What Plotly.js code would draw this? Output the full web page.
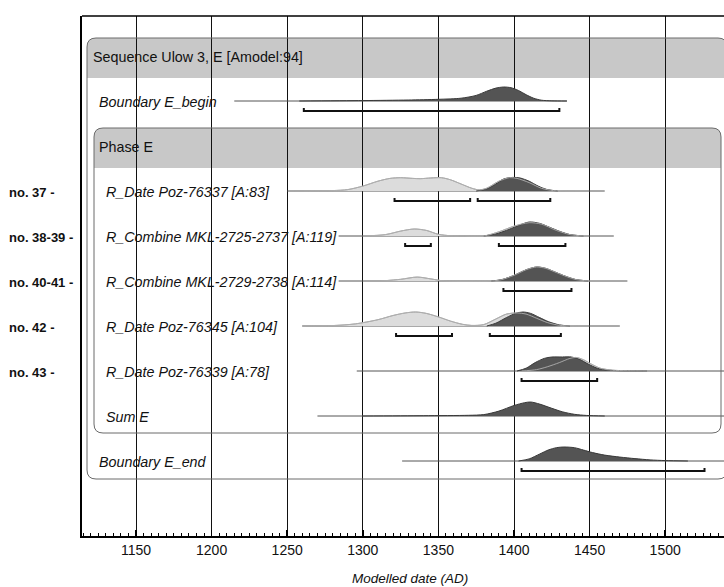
<!DOCTYPE html>
<html><head><meta charset="utf-8">
<script src="https://cdn.plot.ly/plotly-3.0.1.min.js"></script>
<style>html,body{margin:0;padding:0;background:#fff}#chart{width:724px;height:587px}</style>
</head><body><div id="chart"></div>
<script>
// ---------------- DATA ----------------
const headerTitle = 'OxCal v4.2.4 Bronk Ramsey (2013); r:5 IntCal13 atmospheric curve (Reimer et al 2013)';
const sequenceTitle = 'Sequence Ulow 3, E [Amodel:94]';
const phaseTitle = 'Phase E';
const axisTitle = 'Modelled date (AD)';
const itemNames = ['Boundary E_begin', 'R_Date Poz-76337 [A:83]', 'R_Combine MKL-2725-2737 [A:119]',
  'R_Combine MKL-2729-2738 [A:114]', 'R_Date Poz-76345 [A:104]', 'R_Date Poz-76339 [A:78]', 'Sum E', 'Boundary E_end'];
const sampleNos = ['no. 37 -', 'no. 38-39 -', 'no. 40-41 -', 'no. 42 -', 'no. 43 -'];

// distribution extents (years AD)
const spanStart = [1215, 1250, 1284, 1284, 1260, 1296, 1270, 1326];
const spanEnd   = [1435, 1460, 1466, 1475, 1470, 1545, 1545, 1545];

// 95.4% ranges
const range95Start = [[1261], [1321, 1376], [1328, 1390], [1393], [1322, 1384], [1405], [], [1405]];
const range95End   = [[1430], [1371, 1424], [1345, 1434], [1438], [1359, 1431], [1455], [], [1526]];

// unmodelled (light) distributions: years / relative density
const prior1Yr = [1255,1280,1290,1300,1310,1318,1325,1333,1338,1345,1352,1358,1365,1372,1377,1382,1390,1397,1402,1410,1418,1426,1440];
const prior1P  = [0,0.03,0.1,0.35,0.7,0.9,0.95,0.9,0.88,0.93,0.95,0.8,0.5,0.2,0.08,0.2,0.7,0.95,0.9,0.6,0.2,0.03,0];
const prior2Yr = [1300,1315,1325,1334,1342,1350,1358,1366,1380,1390,1400,1410,1418,1428,1437,1447];
const prior2P  = [0,0.1,0.35,0.5,0.4,0.12,0.02,0,0,0.3,0.7,0.95,0.85,0.4,0.1,0];
const prior3Yr = [1312,1325,1336,1345,1354,1385,1392,1400,1408,1415,1421,1428,1435,1441,1450];
const prior3P  = [0,0.12,0.28,0.15,0,0,0.1,0.4,0.8,1.0,0.9,0.6,0.3,0.1,0];
const prior4Yr = [1260,1280,1295,1310,1320,1328,1335,1342,1350,1358,1366,1372,1380,1388,1395,1402,1408,1415,1422,1430,1442];
const prior4P  = [0,0.03,0.15,0.45,0.75,0.93,1.0,0.9,0.65,0.35,0.12,0.04,0.1,0.5,0.85,0.93,0.85,0.55,0.25,0.05,0];
const prior5Yr = [1405,1415,1422,1430,1437,1441,1446,1451,1457,1465,1475,1490];
const prior5P  = [0,0.1,0.3,0.6,0.9,0.97,0.8,0.5,0.2,0.06,0.02,0];

// modelled (dark) distributions
const post0Yr = [1258,1300,1330,1350,1365,1375,1382,1388,1393,1398,1403,1408,1413,1418,1425,1435];
const post0P  = [0,0.03,0.07,0.12,0.2,0.4,0.7,0.92,1.0,0.95,0.75,0.45,0.2,0.06,0.01,0];
const post1Yr = [1375,1382,1388,1393,1399,1404,1410,1416,1422,1429];
const post1P  = [0,0.15,0.5,0.85,0.97,0.93,0.7,0.35,0.1,0];
const post2Yr = [1380,1388,1395,1402,1410,1417,1424,1431,1437,1446];
const post2P  = [0,0.15,0.4,0.7,1.0,0.9,0.6,0.3,0.1,0];
const post3Yr = [1385,1392,1400,1408,1415,1421,1428,1435,1441,1449];
const post3P  = [0,0.1,0.4,0.8,1.0,0.9,0.6,0.3,0.1,0];
const post4Yr = [1382,1388,1395,1401,1406,1411,1417,1423,1430,1437];
const post4P  = [0,0.2,0.6,0.9,1.0,0.9,0.6,0.3,0.08,0];
const post5Yr = [1402,1408,1414,1420,1425,1432,1438,1443,1449,1455,1462,1470,1488];
const post5P  = [0,0.2,0.6,0.9,1.0,1.0,1.0,0.85,0.5,0.2,0.06,0.02,0];
const post6Yr = [1300,1340,1370,1380,1390,1400,1407,1411,1417,1425,1432,1440,1448,1460];
const post6P  = [0,0.02,0.05,0.1,0.35,0.75,0.95,1.0,0.85,0.55,0.3,0.12,0.04,0];
const post7Yr = [1403,1410,1417,1423,1428,1433,1440,1446,1452,1460,1470,1480,1490,1500,1515];
const post7P  = [0,0.15,0.5,0.8,0.95,1.0,0.95,0.78,0.6,0.42,0.28,0.17,0.08,0.03,0];

const priors = [null, [prior1Yr, prior1P], [prior2Yr, prior2P], [prior3Yr, prior3P], [prior4Yr, prior4P], [prior5Yr, prior5P], null, null];
const posts = [[post0Yr, post0P], [post1Yr, post1P], [post2Yr, post2P], [post3Yr, post3P], [post4Yr, post4P], [post5Yr, post5P], [post6Yr, post6P], [post7Yr, post7P]];

// ---------------- LAYOUT HELPERS ----------------
const W = 724, H = 587;
const PL = 82, PT = 16, PB = 536;            // plot area pixels
const pxPerYear = 1.512;                     // from 1150 at px 136
const xAt = px => 1150 + (px - 136) / pxPerYear;
const xMin = xAt(PL), xMax = xAt(W);
const rowY = i => 56 + 45 * i;               // y axis is in pixel units
const itemRows = [1, 3, 4, 5, 6, 7, 8, 9];
const HEIGHT = 14;
const FONT = 'Liberation Sans, Arial, Helvetica, sans-serif';

const traces = [];
function polyTrace(xs, ps, base, fill, line, lw, fillIt) {
  const y = ps.map(p => base - p * HEIGHT);
  return {
    x: xs, y: y, type: 'scatter', mode: 'lines',
    fill: fillIt ? 'toself' : 'none', fillcolor: fill,
    line: {color: line, width: lw, shape: 'spline', smoothing: 0.8},
    hoverinfo: 'skip', showlegend: false
  };
}

itemNames.forEach((name, k) => {
  const base = rowY(itemRows[k]);
  // span line
  traces.push({x: [spanStart[k], spanEnd[k]], y: [base, base], type: 'scatter', mode: 'lines',
    line: {color: '#555', width: 1}, hoverinfo: 'skip', showlegend: false});
  if (priors[k]) traces.push(polyTrace(priors[k][0], priors[k][1], base, '#dcdcdc', '#a0a0a0', 1, true));
  traces.push(polyTrace(posts[k][0], posts[k][1], base, '#545454', '#3a3a3a', 1, true));
  if (priors[k]) traces.push(polyTrace(priors[k][0], priors[k][1], base, 'rgba(0,0,0,0)', 'rgba(175,175,175,0.9)', 1, false));
  // range bars
  range95Start[k].forEach((s, j) => {
    const e = range95End[k][j], yb = base + 10;
    traces.push({x: [s, s, e, e], y: [yb - 3, yb, yb, yb - 3], type: 'scatter', mode: 'lines',
      line: {color: '#111', width: 2}, hoverinfo: 'skip', showlegend: false});
  });
});

// rounded boxes
function roundRect(L, T, R, B, r) {
  const rx = r / pxPerYear;
  const l = xAt(L), rr = xAt(R);
  return `M ${l},${T + r} Q ${l},${T} ${l + rx},${T} L ${rr - rx},${T} Q ${rr},${T} ${rr},${T + r} ` +
         `L ${rr},${B - r} Q ${rr},${B} ${rr - rx},${B} L ${l + rx},${B} Q ${l},${B} ${l},${B - r} Z`;
}
function roundTop(L, T, R, B, r) {
  const rx = r / pxPerYear;
  const l = xAt(L), rr = xAt(R);
  return `M ${l},${B} L ${l},${T + r} Q ${l},${T} ${l + rx},${T} L ${rr - rx},${T} Q ${rr},${T} ${rr},${T + r} L ${rr},${B} Z`;
}
const shapes = [
  {type: 'path', xref: 'x', yref: 'y', path: roundTop(87, 38, 727, 78, 9), fillcolor: '#c8c8c8', line: {width: 0}, layer: 'below'},
  {type: 'path', xref: 'x', yref: 'y', path: roundTop(94, 128, 721, 168, 9), fillcolor: '#c8c8c8', line: {width: 0}, layer: 'below'},
  {type: 'path', xref: 'x', yref: 'y', path: roundRect(87, 38, 727, 479, 9), line: {color: '#6a6a6a', width: 1}},
  {type: 'path', xref: 'x', yref: 'y', path: roundRect(94, 128, 721, 433, 9), line: {color: '#6a6a6a', width: 1}},
  {type: 'line', xref: 'paper', yref: 'paper', x0: 0, x1: 1, y0: 1, y1: 1, line: {color: '#000', width: 1.5}}
];

const px2paper = px => (px - PL) / (W - PL);
const annotations = [];
function label(text, px, py, size, opts) {
  annotations.push(Object.assign({text: text, xref: 'paper', yref: 'y', x: px2paper(px), y: py,
    xanchor: 'left', yanchor: 'middle', showarrow: false,
    font: {family: FONT, size: size, color: '#111'}}, opts || {}));
}
label(headerTitle, 82, 10, 8);
label(sequenceTitle, 91, rowY(0) + 1, 14.3);
label(phaseTitle, 97, rowY(2) + 1, 14.3);
const labelX = [97, 104, 104, 104, 104, 104, 104, 97];
itemNames.forEach((n, k) => label('<i>' + n + '</i>', labelX[k], rowY(itemRows[k]) + 1, 14.3));
sampleNos.forEach((n, k) => label('<b>' + n + '</b>', 7, rowY(3 + k) + 1, 13));
annotations.push({text: '<i>' + axisTitle + '</i>', xref: 'paper', yref: 'paper', x: px2paper(410), y: (PB - 578) / (PB - PT),
  xanchor: 'center', yanchor: 'middle', showarrow: false, font: {family: FONT, size: 13.5, color: '#111'}});

const layout = {
  width: W, height: H,
  margin: {l: PL, r: 0, t: PT, b: H - PB, pad: 0},
  paper_bgcolor: '#fff', plot_bgcolor: '#fff',
  showlegend: false,
  xaxis: {
    range: [xMin, xMax], autorange: false, tick0: 1150, dtick: 50,
    ticks: 'inside', ticklen: 6, tickwidth: 1.5, tickcolor: '#000',
    showgrid: true, gridcolor: '#111', gridwidth: 1, zeroline: false,
    showline: true, linecolor: '#000', linewidth: 2,
    tickfont: {family: FONT, size: 14, color: '#111'},
    minor: {dtick: 5, tick0: 1150, ticks: 'inside', ticklen: 3, tickwidth: 1, tickcolor: '#000', showgrid: false},
    fixedrange: true
  },
  yaxis: {
    range: [PB, PT], autorange: false, showgrid: false, zeroline: false, showticklabels: false,
    ticks: '', showline: true, linecolor: '#000', linewidth: 2, fixedrange: true
  },
  shapes: shapes,
  annotations: annotations
};
Plotly.newPlot('chart', traces, layout, {displayModeBar: false, staticPlot: true});
</script>
</body></html>
